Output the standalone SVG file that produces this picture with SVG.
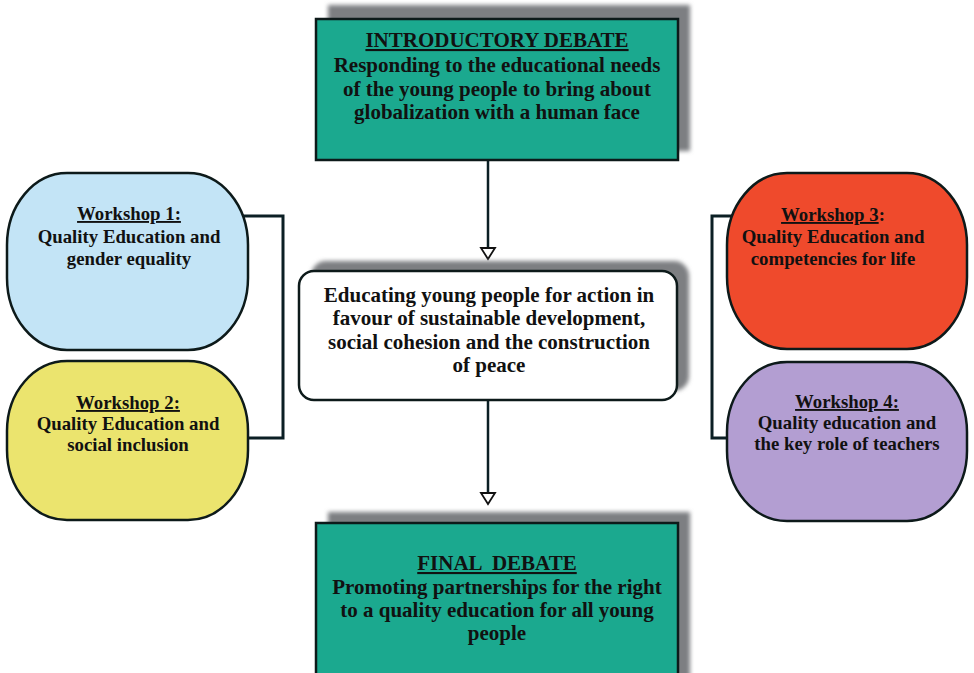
<svg xmlns="http://www.w3.org/2000/svg" width="974" height="673" viewBox="0 0 974 673">
<style>
.t{font-family:"Liberation Serif","Times New Roman",serif;font-weight:bold;fill:#111;text-anchor:middle;white-space:pre}
.big{font-size:21px}
.sm{font-size:18.8px}
.u{text-decoration:underline}
.box{stroke:#0d1a1a;stroke-width:2.5}
.shadow{fill:#7d7f82}
.conn{fill:none;stroke:#0b1f24;stroke-width:3}
.ah{fill:#fff;stroke:#111;stroke-width:1.8}
</style>
<defs>
<filter id="blur" x="-10%" y="-10%" width="120%" height="120%"><feGaussianBlur stdDeviation="2"/></filter>
</defs>
<rect width="974" height="673" fill="#fff"/>
<g id="connectors">
<line class="conn" x1="488" y1="160" x2="488" y2="248" style="stroke-width:2.5"/>
<path class="ah" d="M481,248 L495,248 L488,259 Z"/>
<line class="conn" x1="488" y1="400" x2="488" y2="493" style="stroke-width:2.5"/>
<path class="ah" d="M481,493 L495,493 L488,504 Z"/>
<polyline class="conn" points="243,216 283,216 283,438 243,438"/>
<polyline class="conn" points="738,216 712,216 712,438 736,438"/>
</g>
<g id="intro">
<rect class="shadow" x="328" y="5" width="362" height="146" filter="url(#blur)"/>
<rect class="box" x="316" y="19" width="362" height="141" fill="#1ba98f"/>
<text class="t big" x="497" y="47"><tspan class="u">INTRODUCTORY DEBATE</tspan></text>
<text class="t big" x="497" y="72">Responding to the educational needs</text>
<text class="t big" x="497" y="96">of the young people to bring about</text>
<text class="t big" x="497" y="119">globalization with a human face</text>
</g>
<g id="center">
<rect class="shadow" x="311" y="261" width="378" height="130" rx="15" filter="url(#blur)"/>
<rect class="box" x="299" y="271" width="378" height="129" rx="15" fill="#fff"/>
<text class="t big" x="489" y="302">Educating young people for action in</text>
<text class="t big" x="489" y="325">favour of sustainable development,</text>
<text class="t big" x="489" y="349">social cohesion and the construction</text>
<text class="t big" x="489" y="372">of peace</text>
</g>
<g id="final">
<rect class="shadow" x="328" y="512" width="362" height="170" filter="url(#blur)"/>
<rect class="box" x="316" y="523" width="362" height="160" fill="#1ba98f"/>
<text class="t big" x="497" y="570"><tspan class="u">FINAL  DEBATE</tspan></text>
<text class="t big" x="497" y="594">Promoting partnerships for the right</text>
<text class="t big" x="497" y="617">to a quality education for all young</text>
<text class="t big" x="497" y="640">people</text>
</g>
<g id="ws1">
<rect class="box" x="7" y="173" width="241" height="177" rx="60" ry="72" fill="#c3e4f6"/>
<text class="t sm" x="129" y="220"><tspan class="u">Workshop 1:</tspan></text>
<text class="t sm" x="129" y="243">Quality Education and</text>
<text class="t sm" x="129" y="265">gender equality</text>
</g>
<g id="ws2">
<rect class="box" x="7" y="361" width="241" height="159" rx="60" ry="70" fill="#ebe46e"/>
<text class="t sm" x="128" y="409"><tspan class="u">Workshop 2:</tspan></text>
<text class="t sm" x="128" y="430">Quality Education and</text>
<text class="t sm" x="128" y="451">social inclusion</text>
</g>
<g id="ws3">
<rect class="box" x="727" y="173" width="240" height="176" rx="60" ry="72" fill="#ef4a2c"/>
<text class="t sm" x="833" y="221"><tspan class="u">Workshop 3</tspan>:</text>
<text class="t sm" x="833" y="243">Quality Education and</text>
<text class="t sm" x="833" y="265">competencies for life</text>
</g>
<g id="ws4">
<rect class="box" x="727" y="362" width="240" height="159" rx="60" ry="70" fill="#b39ed2"/>
<text class="t sm" x="847" y="408"><tspan class="u">Workshop 4:</tspan></text>
<text class="t sm" x="847" y="429">Quality education and</text>
<text class="t sm" x="847" y="450">the key role of teachers</text>
</g>
</svg>
